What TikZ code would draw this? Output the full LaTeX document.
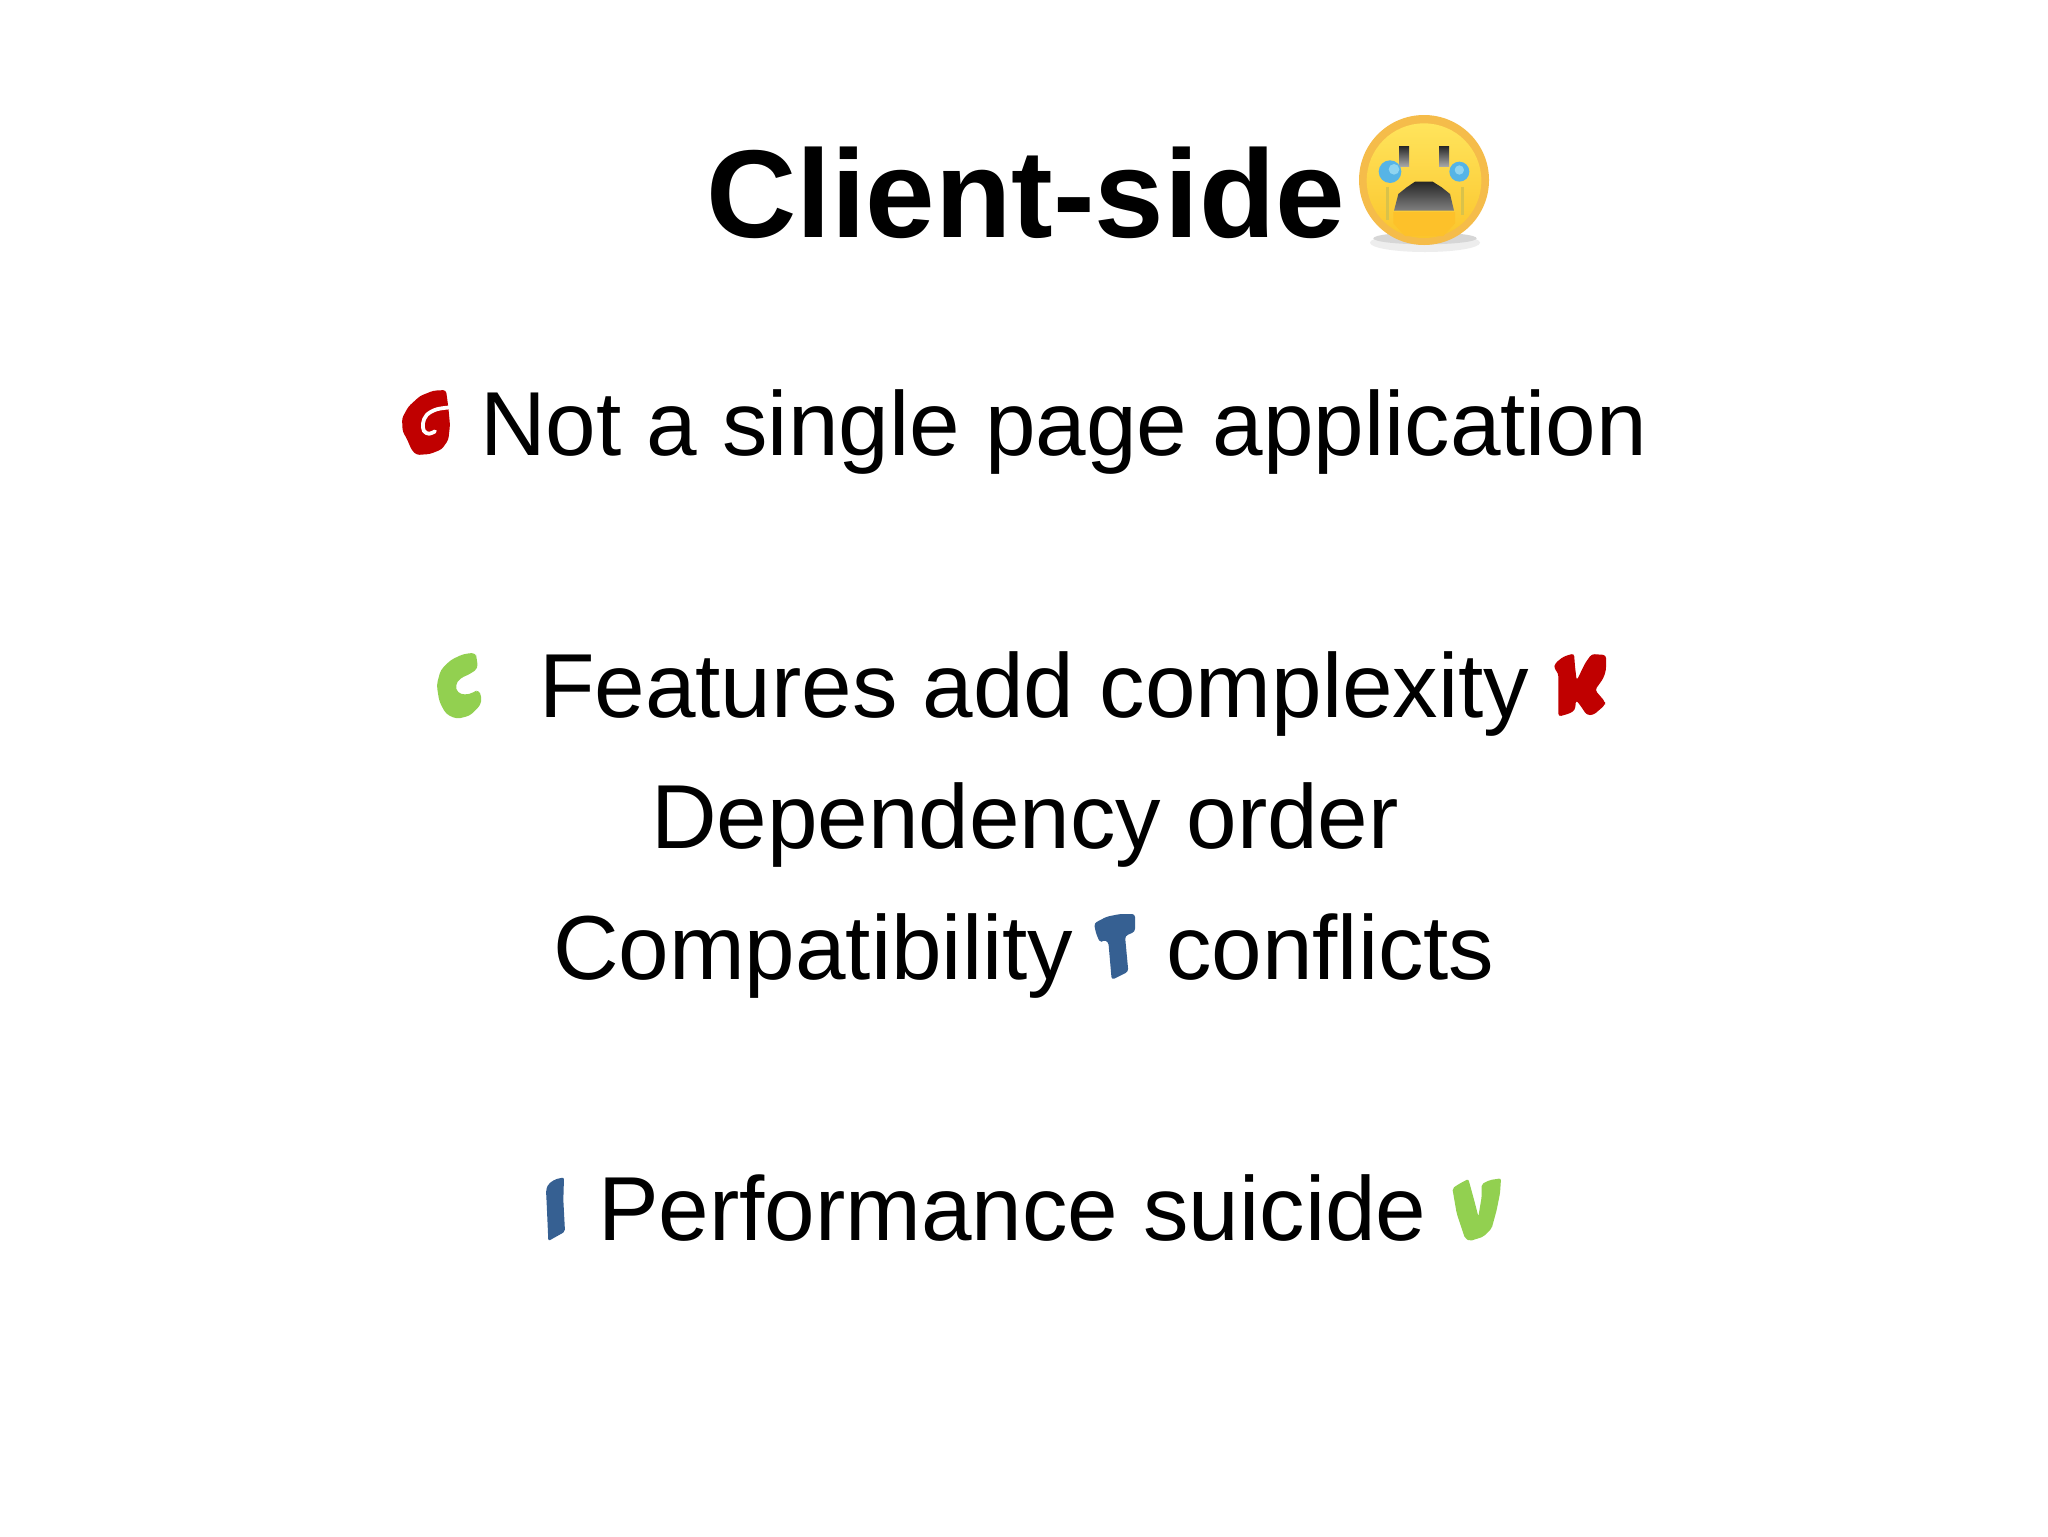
\documentclass[tikz,border=0pt]{standalone}
\usepackage{fontspec}
\setmainfont{Liberation Sans}
\usetikzlibrary{shadings}
\definecolor{gred}{HTML}{C00000}
\definecolor{ggreen}{HTML}{92D050}
\definecolor{gblue}{HTML}{366092}
\definecolor{ering}{HTML}{F5BC4A}
\definecolor{etop}{HTML}{FFE45C}
\definecolor{ebot}{HTML}{FBC52C}
\definecolor{etear}{HTML}{56B4E6}
\definecolor{elite}{HTML}{8FD4F0}
\definecolor{estreak}{HTML}{D9C24A}
\definecolor{echin}{HTML}{FDC12A}
\tikzset{
  x=0.5pt,y=-0.5pt,
  body/.style={anchor=base west,inner sep=0pt,outer sep=0pt,font=\fontsize{45.45pt}{54pt}\selectfont,text=black},
  heading/.style={anchor=base west,inner sep=0pt,outer sep=0pt,font=\fontsize{62.5pt}{72pt}\selectfont\bfseries,text=black},
  zoomat/.style 2 args={shift={(#1,#2)},x=0.16667pt,y=-0.16667pt}
}
\begin{document}
\begin{tikzpicture}
\useasboundingbox[fill=white] (0,0) rectangle (2048,1536);
\node[heading] (title) at (706,237) {Client-side};
\node[body] (l1) at (480,455) {Not a single page application};
\node[body] (l2) at (539,717) {Features add complexity};
\node[body] (l3) at (651,848) {Dependency order};
\node[body] (l4a) at (553,979) {Compatibility};
\node[body] (l4b) at (1166,979) {conflicts};
\node[body] (l5) at (598,1240) {Performance suicide};
% emoji
\begin{scope}[zoomat={1300}{90}]
\fill[black!7] (375,458) ellipse (165 and 28);
\fill[black!16] (375,445) ellipse (155 and 18);
\fill[ering] (372,270) circle (195);
\shade[top color=etop,bottom color=ebot] (372,272) circle (172);
\shade[top color=black!85,bottom color=black!35] (297,168) rectangle (327,228);
\shade[top color=black!85,bottom color=black!35] (417,168) rectangle (447,228);
\draw[estreak,line width=1.2pt] (262,290) -- (262,390);
\draw[estreak,line width=1.2pt] (487,290) -- (487,375);
\fill[etear] (270,245) circle (34);
\fill[etear] (478,245) circle (30);
\fill[elite] (282,238) circle (16);
\fill[elite] (478,240) circle (14);
\shade[top color=black!85,bottom color=black!50] (282,362) -- (295,312) -- (320,292) -- (345,275) -- (398,275) -- (425,292) -- (450,312) -- (462,362) -- cycle;
\fill[echin] (280,366) -- (465,366) -- (465,400) -- (430,438) -- (315,438) -- (280,400) -- cycle;
\end{scope}
% G
\begin{scope}[zoomat={380}{370}]
\fill[gred,rounded corners=1.5pt] (198,60) -- (160,62) -- (120,78) -- (85,110) -- (66,145) -- (68,185) -- (80,205) -- (95,240) -- (110,255) -- (150,252) -- (185,238) -- (205,210) -- (210,165) -- (205,112) -- cycle;
\draw[white,line width=1.9pt,line cap=round] plot[smooth,tension=0.6] coordinates {(212,112) (170,118) (140,135) (129,160) (132,183) (147,191) (165,184)};
\end{scope}
% C
\begin{scope}[zoomat={420}{640}]
\fill[ggreen,rounded corners=2pt] (167,38) -- (130,42) -- (92,60) -- (62,90) -- (50,135) -- (58,185) -- (78,222) -- (110,237) -- (150,227) -- (182,195) -- (185,170) -- (175,148) -- (160,158) -- (135,165) -- (112,158) -- (106,135) -- (120,115) -- (150,102) -- (174,85) -- (170,55) -- cycle;
\end{scope}
% K
\begin{scope}[zoomat={1540}{640}]
\fill[gred,rounded corners=1.5pt] (102,40) -- (70,50) -- (45,70) -- (42,85) -- (55,100) -- (55,230) -- (90,220) -- (105,210) -- (108,180) -- (120,195) -- (140,225) -- (160,225) -- (195,195) -- (195,185) -- (165,150) -- (190,115) -- (198,90) -- (198,45) -- (155,42) -- (135,70) -- (110,122) -- (105,80) -- cycle;
\end{scope}
% T
\begin{scope}[zoomat={1080}{900}]
\fill[gblue,rounded corners=1.5pt] (165,42) -- (120,42) -- (80,50) -- (42,70) -- (48,100) -- (60,128) -- (70,120) -- (85,125) -- (95,240) -- (145,215) -- (135,108) -- (165,95) -- cycle;
\end{scope}
% I
\begin{scope}[zoomat={530}{1160}]
\fill[gblue,rounded corners=1pt] (102,52) -- (75,58) -- (55,72) -- (48,90) -- (50,130) -- (55,243) -- (105,215) -- (100,120) -- cycle;
\end{scope}
% V
\begin{scope}[zoomat={1440}{1160}]
\fill[ggreen,rounded corners=1pt] (85,57) -- (60,70) -- (37,85) -- (50,160) -- (75,235) -- (90,243) -- (130,230) -- (155,205) -- (170,150) -- (180,100) -- (183,55) -- (150,60) -- (125,72) -- (125,110) -- (115,170) -- (105,130) -- cycle;
\end{scope}
\end{tikzpicture}
\end{document}
